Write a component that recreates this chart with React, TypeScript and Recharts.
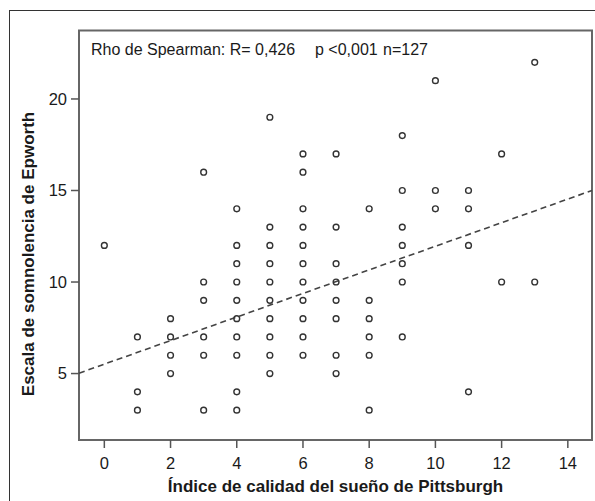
import React from "react";
import {
  ScatterChart,
  Scatter,
  XAxis,
  YAxis,
  ReferenceLine,
  ReferenceArea,
} from "recharts";

// Índice de calidad del sueño de Pittsburgh (x) and the Epworth scores seen at each x
const pittsburghValues = [0, 1, 2, 3, 4, 5, 6, 7, 8, 9, 10, 11, 12, 13];
const epworthByPittsburgh = [
  [12],
  [7, 4, 3],
  [8, 7, 6, 5],
  [16, 10, 9, 7, 6, 3],
  [14, 12, 11, 10, 9, 8, 7, 6, 4, 3],
  [19, 13, 12, 11, 10, 9, 8, 7, 6, 5],
  [17, 16, 14, 13, 12, 11, 10, 9, 8, 7, 6],
  [17, 13, 11, 10, 9, 8, 6, 5],
  [14, 9, 8, 7, 6, 3],
  [18, 15, 13, 12, 11, 10, 7],
  [21, 15, 14],
  [15, 14, 12, 4],
  [17, 10],
  [22, 10],
];

// Regression (dashed) line end points
const trendX = [-0.765, 14.73];
const trendY = [5.02, 15.0];

const xDomain = [-0.765, 14.73];
const yDomain = [1.37, 23.74];
const xTicks = [0, 2, 4, 6, 8, 10, 12, 14];
const yTicks = [5, 10, 15, 20];

const annotation = ["Rho de Spearman: R= 0,426", "p <0,001", "n=127"];
const xLabel = "Índice de calidad del sueño de Pittsburgh";
const yLabel = "Escala de somnolencia de Epworth";

const points = pittsburghValues.flatMap((x, i) =>
  epworthByPittsburgh[i].map((y) => ({ x, y }))
);

const FONT = "'Liberation Sans', Arial, Helvetica, sans-serif";

const OpenCircle = (props: any) => {
  const { cx, cy } = props;
  if (cx == null || cy == null) return null;
  return (
    <circle cx={cx} cy={cy} r={2.9} fill="none" stroke="#333" strokeWidth={1.4} />
  );
};

const YLabelContent = () => {
  const x = 34;
  const y = 254;
  return (
    <text
      x={x}
      y={y}
      transform={`rotate(-90 ${x} ${y})`}
      textAnchor="middle"
      fontFamily={FONT}
      fontSize={17}
      fontWeight="bold"
      fill="#1a1a1a"
    >
      {yLabel}
    </text>
  );
};

export default function App() {
  return (
    <div
      style={{
        position: "absolute",
        left: 0,
        top: 0,
        width: 595,
        height: 501,
        overflow: "hidden",
        background: "#fff",
      }}
    >
      <div
        style={{
          position: "absolute",
          left: 9,
          top: 10,
          width: 600,
          height: 600,
          borderLeft: "1px solid #333",
          borderTop: "1px solid #333",
        }}
      />
      <ScatterChart
        width={595}
        height={501}
        margin={{ top: 30.5, right: 3, left: 0, bottom: 0 }}
        style={{ position: "absolute", left: 0, top: 0 }}
      >
        <XAxis
          type="number"
          dataKey="x"
          domain={xDomain}
          ticks={xTicks}
          allowDataOverflow
          axisLine={false}
          tickLine={{ stroke: "#555", strokeWidth: 1.5 }}
          tickSize={8}
          tickMargin={9}
          height={61}
          tick={{ fill: "#1a1a1a", fontSize: 16.5, fontFamily: FONT }}
          label={{
            value: xLabel,
            position: "insideBottom",
            offset: 9,
            fill: "#1a1a1a",
            fontSize: 17,
            fontWeight: "bold",
            fontFamily: FONT,
          }}
        />
        <YAxis
          type="number"
          dataKey="y"
          domain={yDomain}
          ticks={yTicks}
          allowDataOverflow
          axisLine={false}
          tickLine={{ stroke: "#555", strokeWidth: 1.5 }}
          tickSize={8}
          tickMargin={4}
          width={79}
          tick={{ fill: "#1a1a1a", fontSize: 16.5, fontFamily: FONT }}
          label={<YLabelContent />}
        />
        <ReferenceLine
          segment={[
            { x: trendX[0], y: trendY[0] },
            { x: trendX[1], y: trendY[1] },
          ]}
          stroke="#444"
          strokeWidth={1.6}
          strokeDasharray="6 4"
          ifOverflow="visible"
        />
        <Scatter
          data={points}
          shape={<OpenCircle />}
          isAnimationActive={false}
        />
        <ReferenceArea
          x1={xDomain[0]}
          x2={xDomain[1]}
          y1={yDomain[0]}
          y2={yDomain[1]}
          fill="none"
          fillOpacity={0}
          stroke="#666"
          strokeWidth={2}
          ifOverflow="visible"
        />
      </ScatterChart>
      <svg
        width={595}
        height={501}
        style={{ position: "absolute", left: 0, top: 0, pointerEvents: "none" }}
      >
        <g fontFamily={FONT} fontSize={16} fill="#1a1a1a">
          <text x={91} y={55}>{annotation[0]}</text>
          <text x={315} y={55}>{annotation[1]}</text>
          <text x={383} y={55}>{annotation[2]}</text>
        </g>
      </svg>
    </div>
  );
}
